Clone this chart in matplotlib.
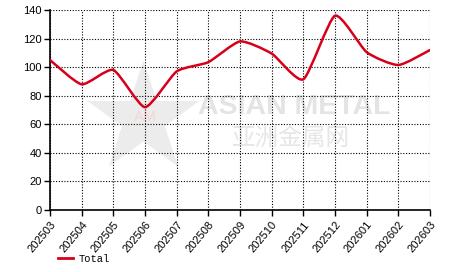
import numpy as np
import matplotlib
matplotlib.use("Agg")
import matplotlib.pyplot as plt
from matplotlib.path import Path
from matplotlib.patches import PathPatch
from matplotlib.lines import Line2D

months = ['202503', '202504', '202505', '202506', '202507', '202508', '202509',
          '202510', '202511', '202512', '202601', '202602', '202603']
total = [105, 88, 98, 72, 97, 103.5, 118, 109.5, 91.5, 136, 110.5, 101.5, 112]

line_color = '#d7001b'


def smooth_path(xs, ys, k=0.1):
    # catmull-rom style bezier through the points
    verts = [(xs[0], ys[0])]
    codes = [Path.MOVETO]
    n = len(xs)
    for i in range(n - 1):
        x0, y0 = xs[max(i - 1, 0)], ys[max(i - 1, 0)]
        x1, y1 = xs[i], ys[i]
        x2, y2 = xs[i + 1], ys[i + 1]
        x3, y3 = xs[min(i + 2, n - 1)], ys[min(i + 2, n - 1)]
        c1 = (x1 + (x2 - x0) * k, y1 + (y2 - y0) * k)
        c2 = (x2 - (x3 - x1) * k, y2 - (y3 - y1) * k)
        verts += [c1, c2, (x2, y2)]
        codes += [Path.CURVE4] * 3
    return Path(verts, codes)


plt.rcParams['font.family'] = ['Liberation Sans', 'DejaVu Sans']

fig = plt.figure(figsize=(4.66, 2.72), dpi=100)
ax = fig.add_axes([50 / 466, 62 / 272, 380 / 466, 200 / 272])

x = np.arange(len(months))

# watermark
ax.text(0.389, 0.515, 'ASIAN METAL', transform=ax.transAxes, fontsize=20.5,
        fontweight='bold', color='#e4e4e4', ha='left', va='center', zorder=0)
ax.text(0.48, 0.36, '亚洲金属网', transform=ax.transAxes, fontsize=17,
        color='#e6e6e6', ha='left', va='center', zorder=0,
        family=['Noto Sans CJK SC', 'DejaVu Sans'])
ax.text(0.245, 0.42, '★', transform=ax.transAxes, fontsize=105,
        color='#ececec', ha='center', va='center', zorder=0,
        family='DejaVu Sans')
ax.text(0.25, 0.465, 'AM', transform=ax.transAxes, fontsize=11,
        color='#f8d4d4', ha='center', va='center', zorder=0)

patch = PathPatch(smooth_path(list(x), total), facecolor='none',
                  edgecolor=line_color, lw=1.8, zorder=3, capstyle='round')
ax.add_patch(patch)

ax.set_xlim(0, len(months) - 1)
ax.set_ylim(0, 140)
ax.set_yticks(range(0, 141, 20))
ax.set_xticks(x)
ax.set_xticklabels(months, rotation=50, ha='right', rotation_mode='anchor')
ax.tick_params(axis='both', labelsize=8, length=4, width=1, color='black',
               direction='out', pad=2)
ax.tick_params(axis='x', pad=3)

ax.grid(True, linestyle=(0, (1, 1.5)), color='black', linewidth=0.8)
ax.set_axisbelow(True)
for s in ['top', 'right']:
    ax.spines[s].set_visible(False)
for s in ['left', 'bottom']:
    ax.spines[s].set_linewidth(1.2)

handle = Line2D([], [], color=line_color, lw=2)
fig.legend([handle], ['Total'], loc='center left', bbox_to_anchor=(49 / 466, 1 - 259 / 272),
           frameon=False, handlelength=1.4, handletextpad=0.5,
           prop={'family': 'Liberation Mono', 'size': 7.5})

fig.savefig('out.png', dpi=100)
